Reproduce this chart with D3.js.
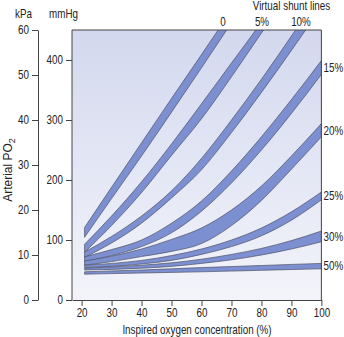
<!DOCTYPE html>
<html><head><meta charset="utf-8">
<script src="https://cdn.jsdelivr.net/npm/d3@7"></script>
<style>
html,body{margin:0;padding:0;background:#fff;}
svg text{font-family:"Liberation Sans",Arial,sans-serif;fill:#222;}
</style></head>
<body><svg id="c" width="344" height="337"></svg>
<script>
// Inspired O2 concentration (%) sample points
const fio2 = [21, 30, 40, 50, 60, 70, 80, 90, 100];
// Arterial PO2 (mmHg) band limits for each virtual shunt (null = off chart)
const shunt0Hi  = [121, 188, 262, 336, 409, 483, null, null, null];
const shunt0Lo  = [104.5, 169, 240, 313, 387, 462, null, null, null];
const shunt5Hi  = [93, 140, 197, 260, 327, 395, 463, 535, null];
const shunt5Lo  = [79.5, 124, 179, 241, 302, 372, 445, 518, null];
const shunt10Hi = [80, 106, 140, 182, 236, 300, 368, 440, 513];
const shunt10Lo = [71, 95, 128, 170, 217, 279, 346, 416, 488];
const shunt15Hi = [72, 84, 100, 128, 165, 215, 272, 334, 399];
const shunt15Lo = [64, 74, 89, 112, 148, 195, 250, 311, 376];
const shunt20Hi = [65, 73, 85, 101, 120, 150, 190, 240, 294];
const shunt20Lo = [58, 64, 72.5, 81, 94, 124, 166, 218, 272];
const shunt25Hi = [58, 61, 66, 74, 85, 100, 120, 147, 180];
const shunt25Lo = [54, 56, 60, 66, 76, 89, 107, 133, 167];
const shunt30Hi = [53, 55, 58, 62, 68, 76, 86, 99, 115];
const shunt30Lo = [50, 51, 53, 56, 61, 67, 75, 85, 97];
const shunt50Hi = [47, 48.5, 50, 52, 54, 55.8, 57.5, 59.3, 61];
const shunt50Lo = [43, 44, 45, 46, 47, 48.2, 49.5, 50.8, 52];
const shuntNames = ["0", "5%", "10%", "15%", "20%", "25%", "30%", "50%"];
const topLabelNames = ["0", "5%", "10%"];
const rightLabelNames = ["15%", "20%", "25%", "30%", "50%"];
const kPaTicks = [0, 10, 20, 30, 40, 50, 60];
const mmHgTicks = [0, 100, 200, 300, 400];
const xTicks = [20, 30, 40, 50, 60, 70, 80, 90, 100];

const bands = [
  [shunt0Lo, shunt0Hi], [shunt5Lo, shunt5Hi], [shunt10Lo, shunt10Hi], [shunt15Lo, shunt15Hi],
  [shunt20Lo, shunt20Hi], [shunt25Lo, shunt25Hi], [shunt30Lo, shunt30Hi], [shunt50Lo, shunt50Hi]
].map((b, i) => ({name: shuntNames[i], pts: fio2.map((f, j) => ({f, lo: b[0][j], hi: b[1][j]}))}));

const svg = d3.select("#c");
const L = 72, R = 321.4, T = 30, B = 300;
const SX = 0.82, FS = 12;
const x = d3.scaleLinear().domain([16.8, 100]).range([L, R]);
const y = d3.scaleLinear().domain([0, 450]).range([B, T]);
const yk = d3.scaleLinear().domain([0, 60]).range([B, T]);

const defs = svg.append("defs");
const g = defs.append("linearGradient").attr("id", "bg").attr("x1", 0).attr("y1", 0).attr("x2", 0).attr("y2", 1);
g.append("stop").attr("offset", "0%").attr("stop-color", "#d3d8ee");
g.append("stop").attr("offset", "100%").attr("stop-color", "#f3f4fa");
defs.append("clipPath").attr("id", "clip").append("rect").attr("x", L).attr("y", T).attr("width", R - L).attr("height", B - T);

svg.append("rect").attr("x", L).attr("y", T).attr("width", R - L).attr("height", B - T).attr("fill", "url(#bg)");

const area = d3.area()
  .defined(d => d.hi != null && d.lo != null)
  .x(d => x(d.f)).y0(d => y(d.lo)).y1(d => y(d.hi))
  .curve(d3.curveMonotoneX);

const gb = svg.append("g").attr("clip-path", "url(#clip)");
bands.forEach(b => {
  gb.append("path").attr("d", area(b.pts))
    .attr("fill", "#7b8fd1").attr("stroke", "#4f5266").attr("stroke-width", 0.7);
});

// frame
svg.append("line").attr("x1", L).attr("x2", R).attr("y1", T).attr("y2", T).attr("stroke", "#444").attr("stroke-width", 1);
svg.append("line").attr("x1", R).attr("x2", R).attr("y1", T).attr("y2", B).attr("stroke", "#444").attr("stroke-width", 1);

function styleAxis(sel, scaleText) {
  sel.selectAll("path,line").attr("stroke", "#444").attr("stroke-width", 1);
  const t = sel.selectAll("text").attr("font-size", FS).attr("fill", "#222")
    .style("font-family", '"Liberation Sans",Arial,sans-serif');
  if (scaleText) t.attr("transform", `scale(${SX},1)`);
}
const ak = svg.append("g").attr("transform", `translate(38,0)`)
  .call(d3.axisLeft(yk).tickValues(kPaTicks).tickSize(6).tickSizeOuter(0).tickPadding(5));
styleAxis(ak, true);
const am = svg.append("g").attr("transform", `translate(${L},0)`)
  .call(d3.axisLeft(y).tickValues(mmHgTicks).tickSize(6).tickSizeOuter(0).tickPadding(5));
styleAxis(am, true);
am.select(".domain").attr("d", `M0,${B}V${T}`);
const ax = svg.append("g").attr("transform", `translate(0,${B})`)
  .call(d3.axisBottom(x).tickValues(xTicks).tickSize(6).tickSizeOuter(0).tickPadding(2));
ax.selectAll(".tick text").each(function() {
  const s = d3.select(this);
  s.attr("x", 0);
});
styleAxis(ax, false);
ax.selectAll(".tick text").attr("transform", `scale(${SX},1)`);

function label(px, py, str, anchor) {
  return svg.append("text").attr("transform", `translate(${px},${py}) scale(${SX},1)`)
    .attr("text-anchor", anchor || "middle").attr("font-size", FS).text(str);
}
label(23.5, 18, "kPa");
label(63.5, 18, "mmHg");
label(291.5, 10, "Virtual shunt lines");
label(197, 334, "Inspired oxygen concentration (%)");
const yt = svg.append("text").attr("transform", "translate(12,170) rotate(-90)").attr("text-anchor", "middle").attr("font-size", FS);
yt.append("tspan").text("Arterial PO");
yt.append("tspan").attr("font-size", 9).attr("dy", 3).text("2");

// top labels at the band crossings of the top edge
const topX = [223, 262, 301];
topLabelNames.forEach((t, i) => label(topX[i], 26, t));
// right labels at band midpoints at 100%
rightLabelNames.forEach(t => {
  const b = bands.find(d => d.name === t);
  const p = b.pts[b.pts.length - 1];
  label(323.5, y((p.lo + p.hi) / 2) + 4.3, t, "start");
});
</script></body></html>
